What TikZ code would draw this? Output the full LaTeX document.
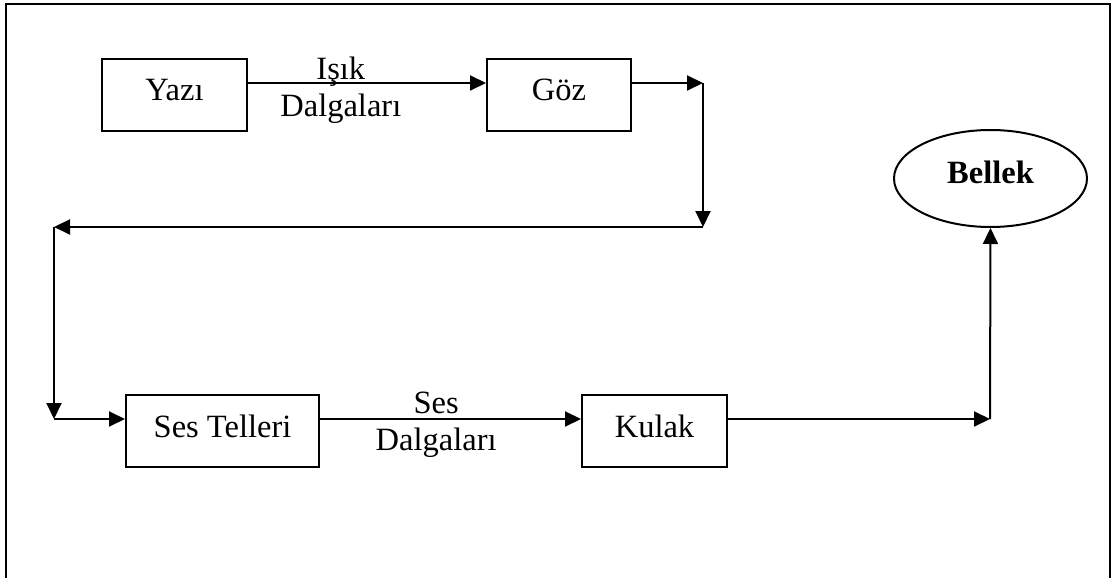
\documentclass[tikz,border=0pt]{standalone}
\usepackage{fontspec}
\setmainfont{Liberation Serif}
\usetikzlibrary{arrows.meta,shapes.geometric}
\begin{document}
\begin{tikzpicture}[x=1pt,y=-1pt,
  lw/.style={line width=2pt},
  box/.style={draw,lw,rectangle,minimum height=72pt,inner sep=0pt,text height=20pt,text depth=8pt},
  arr/.style={lw,-{Triangle[length=16pt,width=15pt]}},
  lbl/.style={align=center,anchor=base,inner sep=0pt},
  font=\fontsize{32.5}{37}\selectfont]
\useasboundingbox (0,0) rectangle (1112,578);
\draw[lw] (6,578) -- (6,4) -- (1110,4) -- (1110,578);
% nodes
\node[box,minimum width=145pt] (yazi) at (174.5,95) {Yazı};
\node[box,minimum width=144pt] (goz) at (559,95) {Göz};
\node[box,minimum width=193pt] (ses) at (222.5,431) {Ses Telleri};
\node[box,minimum width=145pt] (kulak) at (654.5,431) {Kulak};
\node[draw,lw,ellipse,minimum width=193pt,minimum height=97pt,inner sep=0pt,text height=20pt,text depth=11pt,font=\fontsize{32.5}{37}\selectfont\bfseries] (bellek) at (990.5,178.5) {Bellek};
% corner coordinates
\coordinate (rtop) at (0,83);
\coordinate (rbot) at (0,419);
\coordinate (c1) at (703,83);
\coordinate (c2) at (703,227);
\coordinate (c3) at (54,227);
\coordinate (c4) at (54,419);
\coordinate (c5) at (990,419);
% connectors
\draw[arr] (yazi.east |- rtop) -- node[lbl,pos=0.39,yshift=-34pt] {Işık\\Dalgaları} (goz.west |- rtop);
\draw[arr] (goz.east |- rtop) -- (c1);
\draw[arr] (c1) -- (c2);
\draw[arr] (c2) -- (c3);
\draw[arr] (c3) -- (c4);
\draw[arr] (c4) -- (ses.west |- rbot);
\draw[arr] (ses.east |- rbot) -- node[lbl,pos=0.445,yshift=-31pt] {Ses\\Dalgaları} (kulak.west |- rbot);
\draw[arr] (kulak.east |- rbot) -- (c5);
\draw[arr] (c5) -- (bellek.south);
\end{tikzpicture}
\end{document}
